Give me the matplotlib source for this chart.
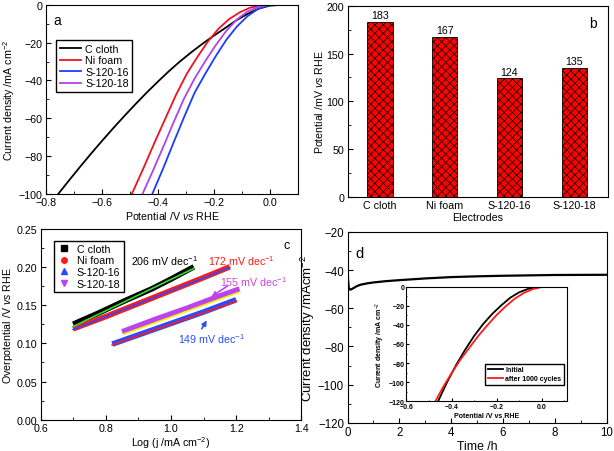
import numpy as np
import matplotlib
matplotlib.use("Agg")
import matplotlib.pyplot as plt
from matplotlib.ticker import MultipleLocator
from matplotlib.lines import Line2D

plt.rcParams['font.family'] = ['Liberation Sans', 'DejaVu Sans']
plt.rcParams['mathtext.fontset'] = 'custom'
plt.rcParams['mathtext.rm'] = 'Liberation Sans'
plt.rcParams['mathtext.it'] = 'Liberation Sans:italic'
plt.rcParams['mathtext.bf'] = 'Liberation Sans:bold'
plt.rcParams['hatch.linewidth'] = 0.5
plt.rcParams['xtick.direction'] = 'in'
plt.rcParams['ytick.direction'] = 'in'

# ---- panel a: polarization curves ----
cloth_v = [-0.756, -0.72, -0.68, -0.64, -0.60, -0.56, -0.52, -0.48, -0.44, -0.40,
           -0.36, -0.32, -0.28, -0.24, -0.20, -0.16, -0.12, -0.08, -0.04, 0.0,
           0.04, 0.1]
cloth_j = [-100, -93.3, -86.0, -78.9, -72.0, -65.3, -58.8, -52.5, -46.4, -40.6,
           -35.0, -29.8, -25.0, -20.5, -16.3, -12.3, -8.2, -4.8, -2.0, -0.4,
           0, 0]
ni_v = [-0.493, -0.449, -0.411, -0.373, -0.335, -0.297, -0.260, -0.222, -0.184, -0.146,
        -0.108, -0.071, -0.033, 0.005, 0.1]
ni_j = [-100, -85.5, -72.5, -60, -47.5, -36.5, -27.8, -19.5, -12.7, -7.6,
        -4.0, -1.5, -0.3, 0, 0]
s16_v = [-0.42, -0.382, -0.345, -0.307, -0.269, -0.231, -0.194, -0.156, -0.118, -0.080,
         -0.042, -0.005, 0.024, 0.1]
s16_j = [-100, -86.8, -73.2, -59.6, -46.5, -36.5, -27.3, -18.6, -11.5, -6.0,
         -2.1, -0.3, 0, 0]
s18_v = [-0.455, -0.420, -0.382, -0.345, -0.307, -0.269, -0.231, -0.194, -0.156, -0.118,
         -0.080, -0.042, -0.005, 0.024, 0.1]
s18_j = [-100, -88.5, -75.5, -62.5, -49.7, -39, -29.8, -21.5, -13.8, -7.8,
         -3.5, -1.1, -0.1, 0, 0]

# ---- panel b: overpotential bars ----
electrodes = ['C cloth', 'Ni foam', 'S-120-16', 'S-120-18']
overpot = [183, 167, 124, 135]

# ---- panel c: Tafel plots ----
cloth_logj = [0.70, 0.78, 0.86, 0.94, 1.00, 1.07]
cloth_eta = [0.125, 0.140, 0.156, 0.171, 0.184, 0.200]
cloth_fit_x = [0.70, 1.07]
cloth_fit_y = [0.122, 0.198]
ni_logj = [0.70, 0.80, 0.90, 1.00, 1.10, 1.18]
ni_eta = [0.119, 0.135, 0.152, 0.169, 0.186, 0.200]
ni_fit_x = [0.70, 1.18]
ni_fit_y = [0.118, 0.199]
s16_logj = [0.82, 0.90, 1.00, 1.10, 1.20]
s16_eta = [0.099, 0.111, 0.126, 0.141, 0.157]
s16_fit_x = [0.82, 1.20]
s16_fit_y = [0.098, 0.155]
s18_logj = [0.85, 0.95, 1.05, 1.15, 1.21]
s18_eta = [0.115, 0.131, 0.146, 0.162, 0.171]
s18_fit_x = [0.855, 1.21]
s18_fit_y = [0.112, 0.167]

# ---- panel d: stability ----
time_h = [0, 0.02, 0.05, 0.1, 0.2, 0.35, 0.5, 0.75, 1, 1.5, 2, 3, 4, 5, 6, 8, 10]
stab_j = [-37, -45, -49.5, -50.3, -49.7, -48.5, -47.7, -47.0, -46.5, -45.8, -45.3, -44.4,
          -43.7, -43.3, -43.0, -42.6, -42.5]
init_v = [-0.46, -0.42, -0.38, -0.34, -0.30, -0.26, -0.22, -0.18, -0.14, -0.10,
          -0.06, -0.02, 0.02, 0.11]
init_j = [-120, -100, -82, -66, -51.5, -39, -28.5, -19.5, -11.5, -5.8,
          -2.2, -0.3, 0, 0]
after_v = [-0.472, -0.44, -0.40, -0.36, -0.32, -0.28, -0.24, -0.20, -0.16, -0.12,
           -0.08, -0.04, 0.0, 0.04, 0.11]
after_j = [-120, -106, -90.5, -76, -63.5, -51, -40, -29.5, -20.5, -12.5,
           -6.5, -2.5, -0.4, 0, 0]

fs = 7.7
fig = plt.figure(figsize=(6.14, 4.52), dpi=100)


def style(ax):
    ax.tick_params(labelsize=fs, pad=2.5, length=3.5)
    ax.tick_params(which='minor', length=2)


# panel a
ax1 = fig.add_axes([0.075, 0.569, 0.41, 0.418])
ax1.plot(cloth_v, cloth_j, color='black', lw=1.3, label='C cloth')
ax1.plot(ni_v, ni_j, color='#ee1122', lw=1.3, label='Ni foam')
ax1.plot(s16_v, s16_j, color='#1a3cff', lw=1.3, label='S-120-16')
ax1.plot(s18_v, s18_j, color='#b044e8', lw=1.3, label='S-120-18')
ax1.set_xlim(-0.8, 0.1)
ax1.set_ylim(-100, 0)
ax1.xaxis.set_major_locator(MultipleLocator(0.2))
ax1.xaxis.set_minor_locator(MultipleLocator(0.1))
ax1.yaxis.set_major_locator(MultipleLocator(20))
ax1.yaxis.set_minor_locator(MultipleLocator(10))
ax1.set_xlabel('Potential /V $\\mathit{vs}$ RHE', fontsize=fs, labelpad=1)
ax1.set_ylabel('Current density /mA cm$^{-2}$', fontsize=fs, labelpad=1)
style(ax1)
ax1.text(0.03, 0.9, 'a', transform=ax1.transAxes, fontsize=10)
ax1.legend(loc='upper left', bbox_to_anchor=(0.02, 0.84), fontsize=fs, fancybox=False,
           edgecolor='black', framealpha=1, handlelength=2.0, labelspacing=0.15,
           borderpad=0.3, handletextpad=0.4)

# panel b
ax2 = fig.add_axes([0.566, 0.562, 0.424, 0.423])
xpos = np.arange(len(electrodes))
ax2.bar(xpos, overpot, width=0.39, color='#ff0000', edgecolor='black',
        hatch='xxxx', lw=0.6)
for x, v in zip(xpos, overpot):
    ax2.text(x, v + 2, str(v), ha='center', va='bottom', fontsize=fs)
ax2.set_xticks(xpos)
ax2.set_xticklabels(electrodes)
ax2.set_xlim(-0.5, 3.52)
ax2.set_ylim(0, 200)
ax2.yaxis.set_major_locator(MultipleLocator(50))
ax2.yaxis.set_minor_locator(MultipleLocator(25))
style(ax2)
ax2.tick_params(axis='x', length=0)
ax2.set_xlabel('Electrodes', fontsize=fs, labelpad=1)
ax2.set_ylabel('Potential /mV $\\mathit{vs}$ RHE', fontsize=fs, labelpad=1)
ax2.text(0.93, 0.89, 'b', transform=ax2.transAxes, fontsize=10)

# panel c
ax3 = fig.add_axes([0.066, 0.069, 0.425, 0.423])
ax3.plot(cloth_logj, cloth_eta, color='black', lw=4, solid_capstyle='butt')
ax3.plot(ni_logj, ni_eta, color='#ff1a1a', lw=4, solid_capstyle='butt')
ax3.plot(s16_logj, s16_eta, color='#2a4cff', lw=4, solid_capstyle='butt')
ax3.plot(s18_logj, s18_eta, color='#bb44ee', lw=4, solid_capstyle='butt')
ax3.plot(cloth_fit_x, cloth_fit_y, color='#33dd33', lw=1.2)
ax3.plot(ni_fit_x, ni_fit_y, color='#2a4cff', lw=1.2)
ax3.plot(s16_fit_x, s16_fit_y, color='#ff1a1a', lw=1.2)
ax3.plot(s18_fit_x, s18_fit_y, color='#f2f200', lw=1.2)
handles = [Line2D([], [], ls='none', marker='s', color='black', ms=4),
           Line2D([], [], ls='none', marker='o', color='#ff1a1a', ms=4),
           Line2D([], [], ls='none', marker='^', color='#2a4cff', ms=4),
           Line2D([], [], ls='none', marker='v', color='#bb44ee', ms=4)]
ax3.legend(handles, ['C cloth', 'Ni foam', 'S-120-16', 'S-120-18'], loc='upper left',
           bbox_to_anchor=(0.033, 0.965), fontsize=fs, fancybox=False, edgecolor='black',
           framealpha=1, handlelength=1.2, labelspacing=0.15, borderpad=0.3,
           handletextpad=0.6)
ax3.text(0.876, 0.2086, '206 mV dec$^{-1}$', color='black', fontsize=fs, va='center')
ax3.text(1.114, 0.2086, '172 mV dec$^{-1}$', color='#ff1a1a', fontsize=fs, va='center')
ax3.text(1.15, 0.181, '155 mV dec$^{-1}$', color='#cc44dd', fontsize=fs, va='center')
ax3.text(1.022, 0.107, '149 mV dec$^{-1}$', color='#2a4cff', fontsize=fs, va='center')
ax3.annotate('', xy=(1.117, 0.159), xytext=(1.18, 0.177),
             arrowprops=dict(arrowstyle='-|>', color='#bb44ee', lw=1.2, mutation_scale=7))
ax3.annotate('', xy=(1.114, 0.133), xytext=(1.09, 0.116),
             arrowprops=dict(arrowstyle='-|>', color='#2a4cff', lw=1.2, mutation_scale=7))
ax3.set_xlim(0.6, 1.4)
ax3.set_ylim(0, 0.25)
ax3.xaxis.set_major_locator(MultipleLocator(0.2))
ax3.xaxis.set_minor_locator(MultipleLocator(0.1))
ax3.yaxis.set_major_locator(MultipleLocator(0.05))
ax3.yaxis.set_minor_locator(MultipleLocator(0.025))
style(ax3)
ax3.set_xlabel('Log (j /mA cm$^{-2}$)', fontsize=fs, labelpad=1)
ax3.set_ylabel('Overpotential /V $\\mathit{vs}$ RHE', fontsize=fs, labelpad=1)
ax3.text(0.93, 0.9, 'c', transform=ax3.transAxes, fontsize=9)

# panel d
ax4 = fig.add_axes([0.566, 0.062, 0.422, 0.423])
ax4.plot(time_h, stab_j, color='black', lw=1.6)
ax4.set_xlim(0, 10)
ax4.set_ylim(-120, -20)
ax4.xaxis.set_major_locator(MultipleLocator(2))
ax4.xaxis.set_minor_locator(MultipleLocator(1))
ax4.yaxis.set_major_locator(MultipleLocator(20))
ax4.yaxis.set_minor_locator(MultipleLocator(10))
style(ax4)
ax4.tick_params(labelsize=8.3)
ax4.set_xlabel('Time /h', fontsize=8.8, labelpad=1)
ax4.set_ylabel('Current density /mAcm$^{-2}$', fontsize=9.5, labelpad=1)
ax4.text(0.03, 0.87, 'd', transform=ax4.transAxes, fontsize=10.5)

ins = fig.add_axes([0.662, 0.110, 0.261, 0.2535])
ins.plot(init_v, init_j, color='black', lw=1.3, label='Initial')
ins.plot(after_v, after_j, color='#ff1a1a', lw=1.3, label='after 1000 cycles')
ins.set_xlim(-0.6, 0.11)
ins.set_ylim(-120, 0)
ins.xaxis.set_major_locator(MultipleLocator(0.2))
ins.xaxis.set_minor_locator(MultipleLocator(0.1))
ins.yaxis.set_major_locator(MultipleLocator(20))
ins.yaxis.set_minor_locator(MultipleLocator(10))
ins.tick_params(labelsize=5, length=2, pad=1.5)
ins.tick_params(which='minor', length=1)
for lab in ins.get_xticklabels() + ins.get_yticklabels():
    lab.set_fontweight('bold')
ins.set_xlabel('Potential /V vs RHE', fontsize=5, fontweight='bold', labelpad=1)
ins.set_ylabel('Current density /mA cm$^{-2}$', fontsize=5, fontweight='bold', labelpad=1)
ins.legend(loc='upper left', bbox_to_anchor=(0.47, 0.36), fancybox=False,
           edgecolor='black', framealpha=1, handlelength=2.2,
           labelspacing=0.3, borderpad=0.4, handletextpad=0.3,
           prop={'weight': 'bold', 'size': 5})

fig.savefig('out.png', dpi=100)
